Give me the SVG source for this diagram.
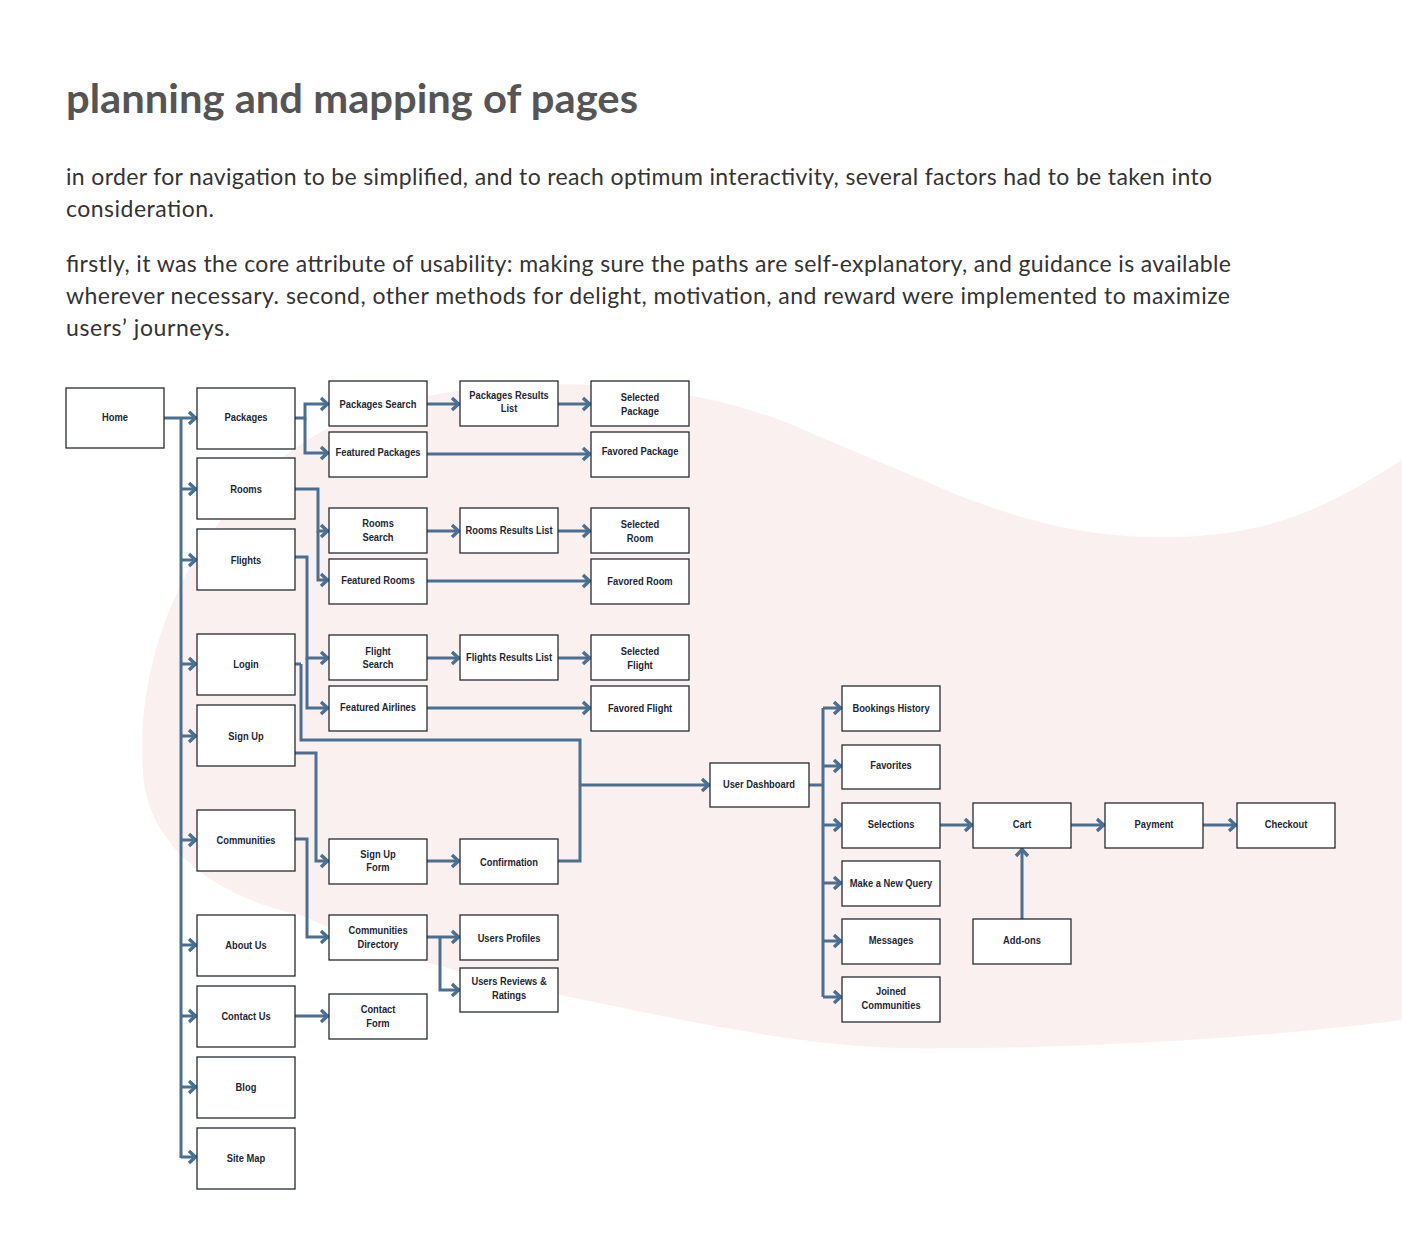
<svg xmlns="http://www.w3.org/2000/svg" width="1402" height="1247" viewBox="0 0 1402 1247">
<defs>
<style>
.bg{fill:#ffffff}
.blob{fill:#fbf0f0}
.title{font-family:"Lato","Open Sans",sans-serif;font-weight:700;font-size:41px;fill:#555555}
.body{font-family:"Lato","Open Sans",sans-serif;font-size:23px;fill:#333333}
.node rect{fill:#ffffff;stroke:#262c34;stroke-width:1.3}
.node text{font-family:"Liberation Sans",Arial,sans-serif;font-weight:700;font-size:11px;fill:#1d2733;text-anchor:middle;transform-box:fill-box;transform-origin:center;transform:scaleX(0.85)}
.conn path{fill:none;stroke:#4a6f90;stroke-width:3;stroke-linejoin:miter}
.arr path.c{marker-end:url(#a)}
</style>
<marker id="a" viewBox="-10 -8 12 16" markerWidth="12" markerHeight="16" refX="0" refY="0" orient="auto" markerUnits="userSpaceOnUse">
<path d="M-8,-6 L-1.5,0 L-8,6" fill="none" stroke="#4a6f90" stroke-width="3.4"/>
</marker>
</defs>
<rect class="bg" x="0" y="0" width="1402" height="1247"/>
<path class="blob" d="M1402,460 C1330,505 1270,540 1150,537 C1060,535 1000,510 960,496 C900,470 850,450 800,428 C740,403 680,390 600,385 C520,382 460,388 400,402 C320,420 250,470 200,550 C150,630 135,720 145,790 C160,860 230,900 300,915 C390,955 480,980 570,997 C680,1020 800,1046 900,1048 C1050,1050 1250,1040 1402,1020 Z"/>

<text class="title" x="66" y="113" textLength="572" lengthAdjust="spacingAndGlyphs">planning and mapping of pages</text>
<text class="body" x="66" y="185" textLength="1146">in order for navigation to be simplified, and to reach optimum interactivity, several factors had to be taken into</text>
<text class="body" x="66" y="217" textLength="148">consideration.</text>
<text class="body" x="66" y="272" textLength="1165">firstly, it was the core attribute of usability: making sure the paths are self-explanatory, and guidance is available</text>
<text class="body" x="66" y="304" textLength="1164">wherever necessary. second, other methods for delight, motivation, and reward were implemented to maximize</text>
<text class="body" x="66" y="336" textLength="164">users’ journeys.</text>

<g class="conn">
<path d="M181,418 V1158"/>
<path d="M301,664 V740 H580 V861 H558"/>
<path d="M823,708 V997"/>
<path d="M809,785 H823"/>
<g class="arr">
<path class="c" d="M164,418 H197"/>
<path class="c" d="M181,489 H197"/>
<path class="c" d="M181,560 H197"/>
<path class="c" d="M181,664 H197"/>
<path class="c" d="M181,736 H197"/>
<path class="c" d="M181,840 H197"/>
<path class="c" d="M181,945 H197"/>
<path class="c" d="M181,1016 H197"/>
<path class="c" d="M181,1087 H197"/>
<path class="c" d="M181,1157 H197"/>
<path class="c" d="M295,418 H305 V404 H329"/>
<path class="c" d="M305,418 V453 H329"/>
<path class="c" d="M295,489 H318 V531 H329"/>
<path class="c" d="M318,531 V580 H329"/>
<path class="c" d="M295,557 H307 V658 H329"/>
<path class="c" d="M307,658 V708 H329"/>
<path d="M295,664 H301"/>
<path class="c" d="M295,753 H316 V861 H329"/>
<path class="c" d="M427,861 H460"/>
<path class="c" d="M295,839 H307 V937 H329"/>
<path class="c" d="M427,937 H460"/>
<path class="c" d="M440,937 V990 H460"/>
<path class="c" d="M295,1016 H329"/>
<path class="c" d="M427,404 H460"/>
<path class="c" d="M558,404 H591"/>
<path class="c" d="M427,454 H591"/>
<path class="c" d="M427,531 H460"/>
<path class="c" d="M558,531 H591"/>
<path class="c" d="M427,581 H591"/>
<path class="c" d="M427,658 H460"/>
<path class="c" d="M558,658 H591"/>
<path class="c" d="M427,708 H591"/>
<path class="c" d="M580,785 H710"/>
<path class="c" d="M823,708 H842"/>
<path class="c" d="M823,766 H842"/>
<path class="c" d="M823,825 H842"/>
<path class="c" d="M823,883 H842"/>
<path class="c" d="M823,941 H842"/>
<path class="c" d="M823,997 H842"/>
<path class="c" d="M940,825 H973"/>
<path class="c" d="M1071,825 H1105"/>
<path class="c" d="M1203,825 H1237"/>
<path class="c" d="M1022,919 V848"/>
</g>
</g>

<g id="home" class="node"><rect x="66" y="388" width="98" height="60"/><text x="115" y="421">Home</text></g>
<g id="packages" class="node"><rect x="197" y="388" width="98" height="61"/><text x="246" y="421">Packages</text></g>
<g id="rooms" class="node"><rect x="197" y="458" width="98" height="61"/><text x="246" y="493">Rooms</text></g>
<g id="flights" class="node"><rect x="197" y="529" width="98" height="61"/><text x="246" y="564">Flights</text></g>
<g id="login" class="node"><rect x="197" y="634" width="98" height="61"/><text x="246" y="668">Login</text></g>
<g id="signup" class="node"><rect x="197" y="705" width="98" height="61"/><text x="246" y="740">Sign Up</text></g>
<g id="communities" class="node"><rect x="197" y="810" width="98" height="61"/><text x="246" y="844">Communities</text></g>
<g id="aboutus" class="node"><rect x="197" y="915" width="98" height="61"/><text x="246" y="949">About Us</text></g>
<g id="contactus" class="node"><rect x="197" y="986" width="98" height="61"/><text x="246" y="1020">Contact Us</text></g>
<g id="blog" class="node"><rect x="197" y="1057" width="98" height="61"/><text x="246" y="1091">Blog</text></g>
<g id="sitemap" class="node"><rect x="197" y="1128" width="98" height="61"/><text x="246" y="1162">Site Map</text></g>

<g id="packages-search" class="node"><rect x="329" y="381" width="98" height="45"/><text x="378" y="408">Packages Search</text></g>
<g id="featured-packages" class="node"><rect x="329" y="432" width="98" height="45"/><text x="378" y="456">Featured Packages</text></g>
<g id="rooms-search" class="node"><rect x="329" y="508" width="98" height="45"/><text x="378" y="527">Rooms</text><text x="378" y="541">Search</text></g>
<g id="featured-rooms" class="node"><rect x="329" y="559" width="98" height="45"/><text x="378" y="584">Featured Rooms</text></g>
<g id="flight-search" class="node"><rect x="329" y="635" width="98" height="45"/><text x="378" y="655">Flight</text><text x="378" y="668">Search</text></g>
<g id="featured-airlines" class="node"><rect x="329" y="686" width="98" height="45"/><text x="378" y="711">Featured Airlines</text></g>
<g id="signup-form" class="node"><rect x="329" y="839" width="98" height="45"/><text x="378" y="858">Sign Up</text><text x="378" y="871">Form</text></g>
<g id="communities-directory" class="node"><rect x="329" y="915" width="98" height="45"/><text x="378" y="934">Communities</text><text x="378" y="948">Directory</text></g>
<g id="contact-form" class="node"><rect x="329" y="994" width="98" height="45"/><text x="378" y="1013">Contact</text><text x="378" y="1027">Form</text></g>

<g id="packages-results" class="node"><rect x="460" y="381" width="98" height="45"/><text x="509" y="399">Packages Results</text><text x="509" y="412">List</text></g>
<g id="rooms-results" class="node"><rect x="460" y="508" width="98" height="45"/><text x="509" y="534">Rooms Results List</text></g>
<g id="flights-results" class="node"><rect x="460" y="635" width="98" height="45"/><text x="509" y="661">Flights Results List</text></g>
<g id="confirmation" class="node"><rect x="460" y="839" width="98" height="45"/><text x="509" y="866">Confirmation</text></g>
<g id="users-profiles" class="node"><rect x="460" y="915" width="98" height="45"/><text x="509" y="942">Users Profiles</text></g>
<g id="users-reviews" class="node"><rect x="460" y="968" width="98" height="44"/><text x="509" y="985">Users Reviews &amp;</text><text x="509" y="999">Ratings</text></g>

<g id="selected-package" class="node"><rect x="591" y="381" width="98" height="45"/><text x="640" y="401">Selected</text><text x="640" y="415">Package</text></g>
<g id="favored-package" class="node"><rect x="591" y="432" width="98" height="45"/><text x="640" y="455">Favored Package</text></g>
<g id="selected-room" class="node"><rect x="591" y="508" width="98" height="45"/><text x="640" y="528">Selected</text><text x="640" y="542">Room</text></g>
<g id="favored-room" class="node"><rect x="591" y="559" width="98" height="45"/><text x="640" y="585">Favored Room</text></g>
<g id="selected-flight" class="node"><rect x="591" y="635" width="98" height="45"/><text x="640" y="655">Selected</text><text x="640" y="669">Flight</text></g>
<g id="favored-flight" class="node"><rect x="591" y="686" width="98" height="45"/><text x="640" y="712">Favored Flight</text></g>

<g id="user-dashboard" class="node"><rect x="710" y="763" width="99" height="44"/><text x="759" y="788">User Dashboard</text></g>

<g id="bookings-history" class="node"><rect x="842" y="686" width="98" height="45"/><text x="891" y="712">Bookings History</text></g>
<g id="favorites" class="node"><rect x="842" y="745" width="98" height="44"/><text x="891" y="769">Favorites</text></g>
<g id="selections" class="node"><rect x="842" y="803" width="98" height="45"/><text x="891" y="828">Selections</text></g>
<g id="new-query" class="node"><rect x="842" y="861" width="98" height="45"/><text x="891" y="887">Make a New Query</text></g>
<g id="messages" class="node"><rect x="842" y="919" width="98" height="45"/><text x="891" y="944">Messages</text></g>
<g id="joined-communities" class="node"><rect x="842" y="977" width="98" height="45"/><text x="891" y="995">Joined</text><text x="891" y="1009">Communities</text></g>

<g id="cart" class="node"><rect x="973" y="803" width="98" height="45"/><text x="1022" y="828">Cart</text></g>
<g id="payment" class="node"><rect x="1105" y="803" width="98" height="45"/><text x="1154" y="828">Payment</text></g>
<g id="checkout" class="node"><rect x="1237" y="803" width="98" height="45"/><text x="1286" y="828">Checkout</text></g>
<g id="add-ons" class="node"><rect x="973" y="919" width="98" height="45"/><text x="1022" y="944">Add-ons</text></g>
</svg>
